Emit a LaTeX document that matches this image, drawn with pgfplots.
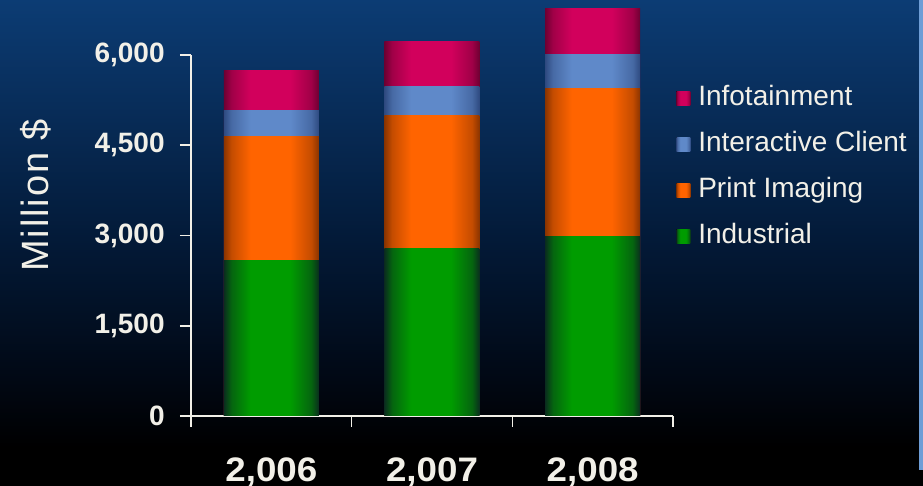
\documentclass[border=0pt]{standalone}
\usepackage{pgfplots}
\pgfplotsset{compat=1.18}
\usepackage{fontspec}
\setmainfont{Liberation Sans}
\newfontfamily\wide[FakeStretch=1.08]{Liberation Sans}
\definecolor{bgtop}{HTML}{0C3C74}
\definecolor{bgmid}{HTML}{031A38}
\definecolor{bglow}{HTML}{010814}
\definecolor{txt}{HTML}{F2F0E8}
\definecolor{magC}{HTML}{D2005C}
\definecolor{magE}{HTML}{6E0032}
\definecolor{bluC}{HTML}{5F89C9}
\definecolor{bluE}{HTML}{2E4A80}
\definecolor{oraC}{HTML}{FF6400}
\definecolor{oraE}{HTML}{8A3400}
\definecolor{grnC}{HTML}{009C00}
\definecolor{grnE}{HTML}{0A2E1E}
\definecolor{edge}{HTML}{6E9DD6}
\colorlet{magM}{magE!50!magC}
\colorlet{bluM}{bluE!50!bluC}
\colorlet{oraM}{oraE!50!oraC}
\colorlet{grnM}{grnE!50!grnC}
\pgfdeclareverticalshading{bgshade}{100bp}{color(0bp)=(black); color(25bp)=(black); color(29bp)=(black); color(36bp)=(bglow); color(50.5bp)=(bgmid); color(75bp)=(bgtop); color(100bp)=(bgtop)}
\newcommand\barshade[4]{\pgfdeclarehorizontalshading{#1}{100bp}{color(0bp)=(#2); color(25bp)=(#2); color(29bp)=(#3); color(39bp)=(#4); color(60bp)=(#4); color(71bp)=(#3); color(75bp)=(#2); color(100bp)=(#2)}}
\barshade{grnbar}{grnE}{grnM}{grnC}
\barshade{orabar}{oraE}{oraM}{oraC}
\barshade{blubar}{bluE}{bluM}{bluC}
\barshade{magbar}{magE}{magM}{magC}

% segment values (Industrial, Print Imaging, Interactive Client, Infotainment):
% 2006: 2580, 2060, 430, 680 ; 2007: 2780, 2220, 480, 750 ; 2008: 2980, 2470, 550, 770
% plotted below as cumulative tops, tallest first

\pgfplotsset{
  grn/.style={draw=none, shading=grnbar},
  ora/.style={draw=none, shading=orabar},
  blu/.style={draw=none, shading=blubar},
  mag/.style={draw=none, shading=magbar},
}

\begin{document}
\begin{tikzpicture}
\path[use as bounding box] (0,0) rectangle (461.5pt,243pt);
\shade[shading=bgshade] (0,0) rectangle (461.5pt,243pt);
\fill[edge] (459.5pt,8pt) rectangle (461.5pt,243pt);
\begin{axis}[
  scale only axis,
  width=241pt, height=180.5pt,
  at={(95.5pt,35pt)}, anchor=south west,
  ybar, bar width=47.5pt, bar shift=0pt,
  xmin=-0.5, xmax=2.5, ymin=0, ymax=6000,
  clip=false,
  axis x line*=bottom, axis y line*=left,
  axis line style={txt, line width=0.8pt},
  every tick/.style={txt, line width=0.8pt},
  tick align=outside,
  ytick={0,1500,3000,4500,6000},
  yticklabels={0,{1,500},{3,000},{4,500},{6,000}},
  yticklabel style={anchor=east, inner sep=0pt, xshift=-7.5pt, text=txt, font=\bfseries\fontsize{14}{16}\selectfont},
  major tick length=5.5pt,
  xtick={-0.5,0.5,1.5,2.5},
  xticklabels={},
  extra x ticks={0,1,2},
  extra x tick labels={{2,006},{2,007},{2,008}},
  extra x tick style={major tick length=0pt, xticklabel style={anchor=north, inner sep=0pt, yshift=-20.5pt, text=txt, font=\wide\bfseries\fontsize{17}{19}\selectfont}},
  ylabel={\addfontfeature{LetterSpace=5}Million \$},
  ylabel style={at={(axis description cs:-0.3226,0.611)}, anchor=center, text=txt, font=\fontsize{19}{21}\selectfont},
  legend cell align=left,
  legend image code/.code={\fill[#1] (0pt,-3.5pt) rectangle (7pt,3.5pt);},
  legend style={at={(axis description cs:1.006,0.917)}, anchor=north west, draw=none, fill=none, inner sep=0pt, text=txt,
    font=\fontsize{14}{16}\selectfont, row sep=10pt,
    nodes={inner sep=0pt, text height=10pt, text depth=3pt},
    /tikz/every odd column/.append style={column sep=4pt}},
]
% Infotainment (top of stack)
\addplot[mag] coordinates {(0,5750)};
\addlegendentry{Infotainment}
\addplot[mag, forget plot] coordinates {(1,6230)};
\addplot[mag, forget plot] coordinates {(2,6770)};
% Interactive Client
\addplot[blu] coordinates {(0,5070)};
\addlegendentry{Interactive Client}
\addplot[blu, forget plot] coordinates {(1,5480)};
\addplot[blu, forget plot] coordinates {(2,6000)};
% Print Imaging
\addplot[ora] coordinates {(0,4640)};
\addlegendentry{Print Imaging}
\addplot[ora, forget plot] coordinates {(1,5000)};
\addplot[ora, forget plot] coordinates {(2,5450)};
% Industrial
\addplot[grn] coordinates {(0,2580)};
\addlegendentry{Industrial}
\addplot[grn, forget plot] coordinates {(1,2780)};
\addplot[grn, forget plot] coordinates {(2,2980)};
\end{axis}
\end{tikzpicture}
\end{document}
